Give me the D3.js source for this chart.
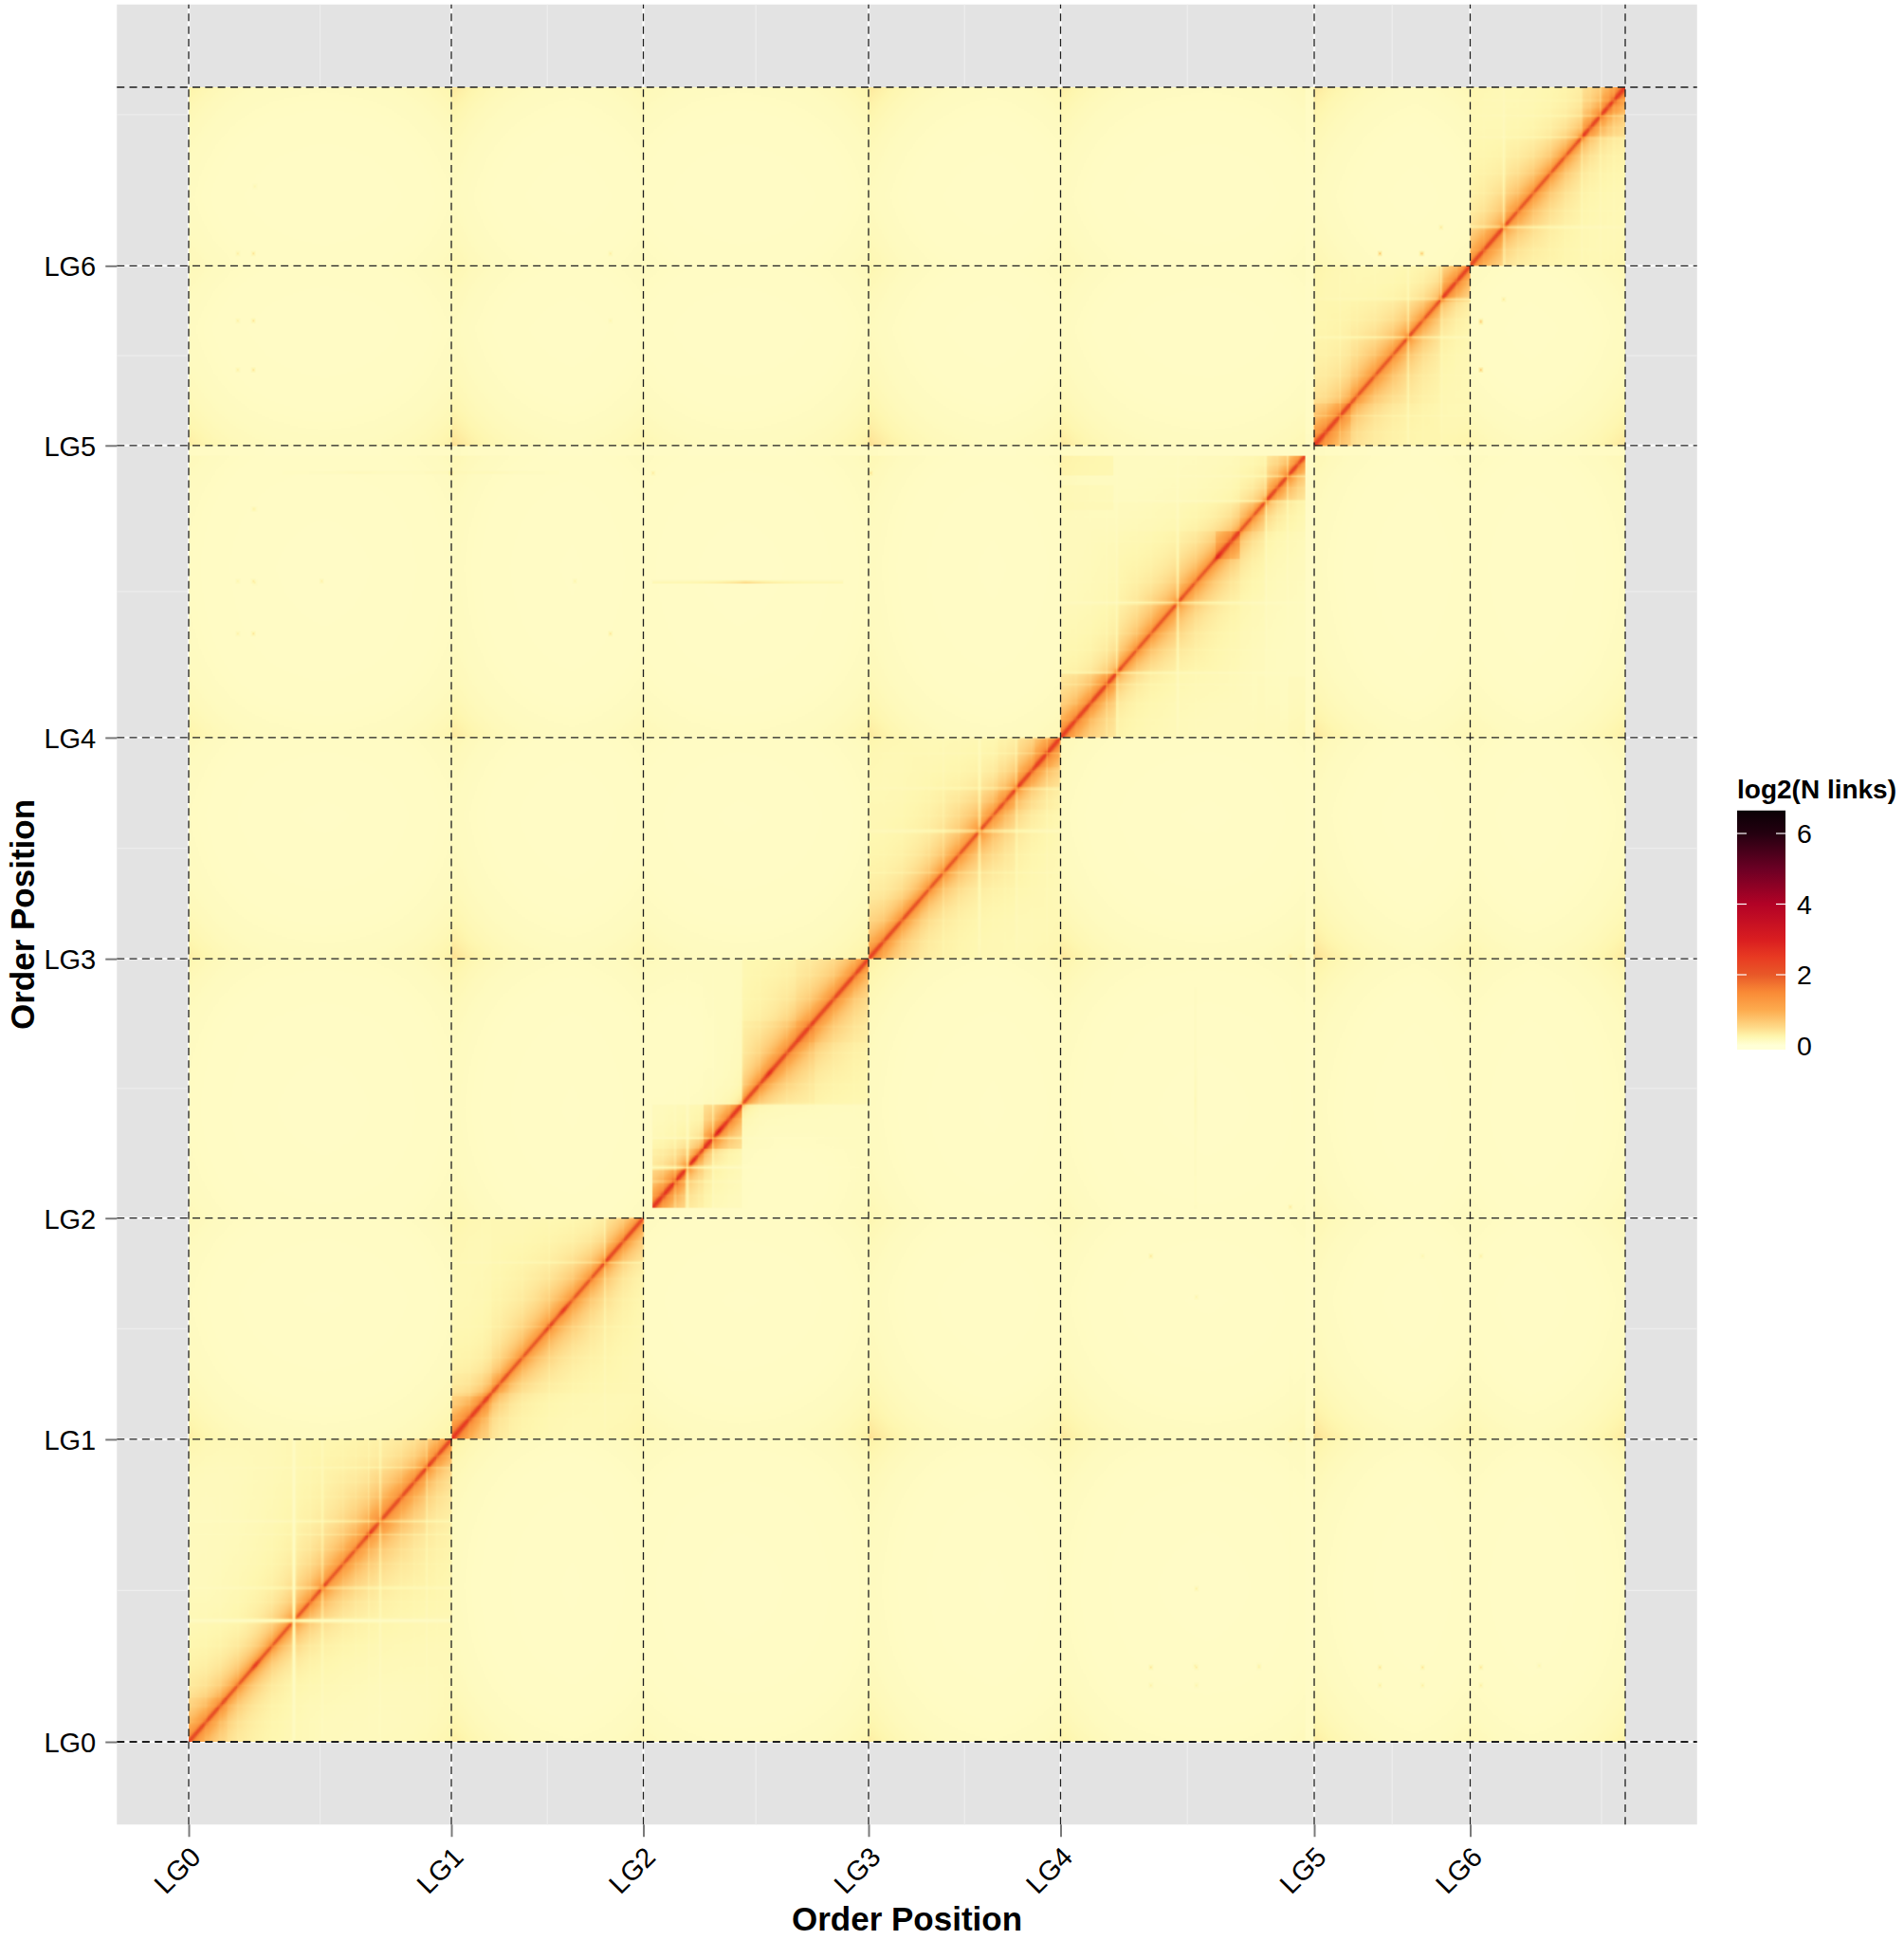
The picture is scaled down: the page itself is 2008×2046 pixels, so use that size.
<!DOCTYPE html>
<html>
<head>
<meta charset="utf-8">
<script src="https://cdn.jsdelivr.net/npm/d3@7"></script>
<style>
  html, body { margin: 0; padding: 0; background: #fff; }
  svg { display: block; font-family: "Liberation Sans", Arial, sans-serif; }
</style>
</head>
<body>
<svg id="chart" width="2008" height="2046"></svg>
<script>
// Everything below. Unit = one order position.
const lgLabels = ["LG0", "LG1", "LG2", "LG3", "LG4", "LG5", "LG6"];
const lgTicks = [0, 277, 479.5, 717, 919.5, 1187, 1351.5];
const totalLength = 1515;

// where the contact block of each group really starts and stops
const blockStart = [0, 277, 489, 717, 919.5, 1187, 1351.5];
const blockEnd = [277, 479.5, 717, 919.5, 1178, 1351.5, 1515];

// width of the orange halo along the diagonal of each group
const haloLG0 = [42, 36, 32, 40, 52, 60, 46, 30];
const haloLG1 = [32, 28, 34, 44, 48, 42, 30, 28];
const haloLG2 = [26, 20, 20, 20, 38, 42, 36, 28];
const haloLG3 = [32, 32, 36, 42, 50, 42, 32, 34];
const haloLG4 = [32, 30, 36, 48, 42, 36, 30, 24];
const haloLG5 = [36, 36, 42, 48, 42, 36, 32, 24];
const haloLG6 = [36, 42, 48, 42, 36, 32, 28, 30];
const haloWidths = [haloLG0, haloLG1, haloLG2, haloLG3, haloLG4, haloLG5, haloLG6];

// [from, to, extra log2 links] squares sitting on the diagonal
const subBlocks = [
  [0, 40, 0.12], [190, 250, 0.12], [250, 277, 0.14],
  [278, 316, 0.24], [278, 337, 0.08], [439, 479, 0.18],
  [489, 524, 0.34], [489, 552, 0.16], [489, 584, 0.1], [543, 584, 0.42], [584, 717, 0.1], [584, 660, 0.14], [640, 717, 0.12],
  [718, 771, 0.08], [854, 918, 0.12], [873, 918, 0.14], [892, 918, 0.16],
  [919, 978, 0.26], [1083, 1108, 0.42], [1136, 1178, 0.2], [1159, 1178, 0.1],
  [1187, 1226, 0.18], [1319, 1351, 0.3],
  [1351, 1388, 0.2], [1469, 1515, 0.24], [1489, 1515, 0.12],
];

// [position, factor] contacts crossing this position are damped
const barriers = [
  [320, 0.85], [584, 0.36], [543, 0.8], [873, 0.88], [979, 0.8], [1043, 0.92],
  [1108, 0.82], [1136, 0.75], [1226, 0.88], [1321, 0.75], [1388, 0.88], [1469, 0.88],
];

// [position, half width, strength] pale crosses
const paleStripes = [
  [111, 1.8, 0.96], [141, 1.4, 0.45], [202, 1.4, 0.5], [190, 1, 0.25], [251, 1.2, 0.35],
  [439, 1.2, 0.4], [380, 1, 0.18],
  [526, 1.6, 0.7], [553, 1.2, 0.5], [584, 1, 0.2], [513, 1, 0.4],
  [796, 1.2, 0.25], [834, 1.6, 0.6], [873, 1.2, 0.45], [905, 1, 0.25],
  [979, 1.4, 0.5], [1043, 1.5, 0.6], [1136, 1.3, 0.5], [1159, 1.2, 0.45], [968, 1, 0.25],
  [1286, 1.4, 0.5], [1321, 1.4, 0.45], [1214, 1, 0.25],
  [1387, 1.5, 0.55], [1469, 1.2, 0.35], [1489, 1.2, 0.35], [1503, 1, 0.25],
];

// finer pale lines inside the blocks
const fineStripes = [
  18, 33, 52, 88, 128, 163, 176, 224, 238, 262,
  296, 309, 328, 352, 405, 424, 458,
  500, 538, 570, 602, 631, 655, 680, 702,
  733, 752, 781, 812, 848, 861, 889,
  936, 951, 1000, 1015, 1062, 1099, 1122, 1148, 1170,
  1199, 1232, 1251, 1270, 1302, 1337,
  1366, 1402, 1418, 1436, 1452, 1478, 1497,
];

// dark knots on the diagonal
const diagSpots = [70, 141, 190, 251, 380, 395, 439, 532, 559, 612, 834, 873, 979, 1043, 1085, 1136, 1286, 1321, 1387, 1469];

// warm ends of the groups, they attract contacts from the other groups
const rimAtStart = [0.6, 1, 0.25, 1, 0.75, 1, 0.3];
const rimAtEnd = [0.5, 0.3, 0.55, 0.25, 0.25, 0.3, 0.75];

// [a, b, value] small isolated dots between groups
const specks = [
  [51, 1363, 0.2], [68, 1363, 0.32], [445, 1363, 0.2], [51, 1301, 0.2], [68, 1301, 0.32], [445, 1301, 0.12],
  [51, 1256, 0.2], [68, 1256, 0.32], [51, 1063, 0.14], [68, 1063, 0.22], [140, 1063, 0.2], [407, 1063, 0.16],
  [51, 1015, 0.18], [68, 1015, 0.32], [445, 1015, 0.32], [68, 1129, 0.14],
  [277, 1162, 0.4], [489, 1162, 0.25], [719, 1162, 0.3],
  [1061, 69, 0.12], [1129, 69, 0.1], [1424, 69, 0.12], [1256, 1363, 0.4], [1300, 1363, 0.4],
  [1320, 1387, 0.28], [1362, 1301, 0.32], [1362, 1256, 0.26],
];

// thin streaks, far stronger on the row than on the mirrored column
const streakFrom = [489, 250, 100];
const streakTo = [690, 390, 277];
const streakAt = [1061, 1162, 1162];
const streakValue = [0.42, 0.05, 0.06];
const streakPeak = [587, 320, 180];

// [a0, a1, b0, b1, value] faint far contacts, seen above the diagonal only
const farPatches = [
  [919, 975, 1160, 1178, 0.09],
  [919, 975, 1128, 1150, 0.04],
];

// legend colours
const colorValues = [0, 0.25, 0.5, 1, 1.5, 2, 2.5, 3, 4, 5, 6, 6.65];
const colorStops = ["#ffffd6", "#fef6ae", "#fedb8a", "#fdab4e", "#f98a36", "#e85828", "#e83a22", "#d91d20", "#b20226", "#6b0024", "#240010", "#0a0005"];
const legendTicks = [0, 2, 4, 6];

const svg = d3.select("#chart");
const x = d3.scaleLinear().domain([0, totalLength]).range([199, 1714]);
const y = d3.scaleLinear().domain([0, totalLength]).range([1837, 92]);
const color = d3.scaleLinear().domain(colorValues).range(colorStops).clamp(true);

const pad = totalLength * 0.05;
const left = x(-pad), right = x(totalLength + pad), bottom = y(-pad), top_ = y(totalLength + pad);

// panel
svg.append("rect")
  .attr("x", left).attr("y", top_)
  .attr("width", right - left).attr("height", bottom - top_)
  .attr("fill", "#e3e3e3");

// minor breaks like ggplot: also one past the last major
const minor = d3.pairs(lgTicks.concat([lgTicks[6] + lgTicks[1] - lgTicks[0]])).map((p) => (p[0] + p[1]) / 2);
const grid = svg.append("g").attr("fill", "none");
minor.forEach((d) => {
  if (x(d) < right) grid.append("line").attr("x1", x(d)).attr("x2", x(d)).attr("y1", top_).attr("y2", bottom).attr("stroke", "#ededed").attr("stroke-width", 1.2);
  if (y(d) > top_) grid.append("line").attr("y1", y(d)).attr("y2", y(d)).attr("x1", left).attr("x2", right).attr("stroke", "#ededed").attr("stroke-width", 1.2);
});
lgTicks.forEach((d) => {
  grid.append("line").attr("x1", x(d)).attr("x2", x(d)).attr("y1", top_).attr("y2", bottom).attr("stroke", "#fafafa").attr("stroke-width", 2.4);
  grid.append("line").attr("y1", y(d)).attr("y2", y(d)).attr("x1", left).attr("x2", right).attr("stroke", "#fafafa").attr("stroke-width", 2.4);
});

// build the contact matrix
const bin = 1.5;
const n = Math.ceil(totalLength / bin);
const pos = d3.range(n).map((i) => (i + 0.5) * bin);

const lgOf = pos.map((u) => blockStart.findIndex((s, k) => u >= s && u < blockEnd[k]));
const stripeF = pos.map((u) => {
  const big = paleStripes.reduce((f, s) => f * (1 - s[2] * Math.exp(-Math.pow((u - s[0]) / s[1], 2))), 1);
  return fineStripes.reduce((f, s) => f * (1 - 0.1 * Math.exp(-Math.pow((u - s) / 1.2, 2))), big);
});
// a start only warms the group after it, an end only the group before it
const rimFall = (dist, strength) => strength * (0.85 * Math.exp(-dist / 30) + 0.15 * Math.exp(-dist / 70));
const rim = pos.map((u) => {
  const fromStart = d3.max(lgTicks, (d, k) => (u >= d ? rimFall(u - d, rimAtStart[k]) : 0));
  const fromEnd = d3.max(blockEnd, (d, k) => (u <= d ? rimFall(d - u, rimAtEnd[k]) : 0));
  return Math.max(fromStart, fromEnd);
});
const spot = pos.map((u) => d3.sum(diagSpots, (s) => Math.exp(-Math.pow((u - s) / 3.5, 2))));

const widthScales = haloWidths.map((arr, k) =>
  d3.scaleLinear()
    .domain(arr.map((_, i) => blockStart[k] + ((blockEnd[k] - blockStart[k]) * i) / (arr.length - 1)))
    .range(arr));
const widthAt = pos.map((u, i) => (lgOf[i] >= 0 ? widthScales[lgOf[i]](u) : 30));

const matrix = new Float32Array(n * n);
for (let i = 0; i < n; i++) {
  for (let j = i; j < n; j++) {
    const a = pos[i], b = pos[j];
    let v = 0.1 + 0.3 * rim[i] * rim[j] + 0.035 * (rim[i] + rim[j]);
    if (lgOf[i] >= 0 && lgOf[i] === lgOf[j]) {
      const d = b - a;
      const mid = (i + j) >> 1;
      const w = widthAt[mid];
      let h = 0.98 * Math.exp(-d / (0.42 * w)) + 0.34 * Math.exp(-d / (2.1 * w));
      const soft = 0.2 + 0.8 * Math.exp(-d / 25);
      for (const s of subBlocks) if (a >= s[0] && b <= s[1]) h += s[2] * soft;
      for (const c of barriers) if (a < c[0] && b > c[0]) h *= c[1];
      const line = Math.exp(-Math.pow(d / 3.2, 2)) * (0.62 + 0.5 * spot[mid]);
      v += (h + line) * stripeF[i] * stripeF[j];
    }
    matrix[i * n + j] = v;
    matrix[j * n + i] = v;
  }
}

const binOf = (u) => Math.min(n - 1, Math.max(0, Math.floor(u / bin)));
// mirror is how much of the value also lands on the other side of the diagonal
const bump = (a, b, dv, mirror = 1) => {
  const i = binOf(a), j = binOf(b);
  matrix[j * n + i] += dv;
  matrix[i * n + j] += dv * mirror;
};
farPatches.forEach((p) => {
  for (let a = p[0]; a < p[1]; a += bin) for (let b = p[2]; b < p[3]; b += bin) bump(a, b, p[4], 0.25);
});
streakAt.forEach((at, k) => {
  for (let a = streakFrom[k]; a < streakTo[k]; a += bin) {
    const dv = streakValue[k] * (0.2 + 0.8 * Math.exp(-Math.abs(a - streakPeak[k]) / 30));
    bump(a, at, dv, 0.2);
    bump(a, at + bin, dv * 0.6, 0.2);
  }
});
specks.forEach((s) => {
  for (let da = -bin; da <= bin; da += bin) for (let db = -bin; db <= bin; db += bin) {
    bump(s[0] + da, s[1] + db, s[2] * (da === 0 && db === 0 ? 1 : 0.3));
  }
});

// paint the matrix through the colour scale, row 0 is the top of the picture
const lutStep = 0.005;
const lut = d3.range(0, 6.65 + lutStep, lutStep).map((v) => d3.rgb(color(v)));
const canvas = document.createElement("canvas");
canvas.width = n;
canvas.height = n;
const ctx = canvas.getContext("2d");
const img = ctx.createImageData(n, n);
for (let r = 0; r < n; r++) {
  for (let c = 0; c < n; c++) {
    const v = matrix[(n - 1 - r) * n + c];
    const col = lut[Math.min(lut.length - 1, Math.round(v / lutStep))];
    const o = (r * n + c) * 4;
    img.data[o] = col.r;
    img.data[o + 1] = col.g;
    img.data[o + 2] = col.b;
    img.data[o + 3] = 255;
  }
}
ctx.putImageData(img, 0, 0);

svg.append("image")
  .attr("x", x(0)).attr("y", y(totalLength))
  .attr("width", x(totalLength) - x(0)).attr("height", y(0) - y(totalLength))
  .attr("preserveAspectRatio", "none")
  .attr("href", canvas.toDataURL());

// dashed group borders, ggplot starts them from the bottom and the left
const dashes = svg.append("g").attr("fill", "none").attr("stroke", "#1e1e1e").attr("stroke-dasharray", "8 5.3");
lgTicks.concat([totalLength]).forEach((d) => {
  dashes.append("line")
    .attr("x1", x(d)).attr("x2", x(d)).attr("y1", bottom).attr("y2", top_)
    .attr("stroke-width", 1.3);
  dashes.append("line")
    .attr("x1", left).attr("x2", right).attr("y1", y(d)).attr("y2", y(d))
    .attr("stroke-width", d === 0 ? 2.2 : 1.3);
});

// axes
const axisX = svg.append("g")
  .attr("transform", `translate(0, ${bottom})`)
  .call(d3.axisBottom(x).tickValues(lgTicks).tickFormat((d, i) => lgLabels[i]).tickSize(13));
const axisY = svg.append("g")
  .attr("transform", `translate(${left}, 0)`)
  .call(d3.axisLeft(y).tickValues(lgTicks).tickFormat((d, i) => lgLabels[i]).tickSize(12));
[axisX, axisY].forEach((a) => {
  a.select(".domain").remove();
  a.selectAll("line").attr("stroke", "#7a7a7a").attr("stroke-width", 2);
  a.selectAll("text").attr("fill", "#000").style("font-size", "29px").style("font-family", '"Liberation Sans", Arial, sans-serif');
});
axisX.selectAll("text")
  .attr("text-anchor", "end")
  .attr("x", 0).attr("y", 0).attr("dy", 0)
  .attr("transform", "translate(14, 36) rotate(-45)");
axisY.selectAll("text").attr("x", -22).attr("dy", "0.36em");

// axis titles
svg.append("text")
  .attr("x", (left + right) / 2).attr("y", 2036)
  .attr("text-anchor", "middle")
  .style("font-size", "35px").style("font-weight", "bold")
  .text("Order Position");
svg.append("text")
  .attr("transform", `translate(36, ${(top_ + bottom) / 2}) rotate(-90)`)
  .attr("text-anchor", "middle")
  .style("font-size", "35px").style("font-weight", "bold")
  .text("Order Position");

// legend
const legY = d3.scaleLinear().domain([0, 6]).range([1102.5, 879]);
const barTop = legY(6.65), barBottom = legY(-0.12);
const defs = svg.append("defs");
const grad = defs.append("linearGradient").attr("id", "legendGrad").attr("x1", 0).attr("x2", 0).attr("y1", 1).attr("y2", 0);
colorValues.forEach((v, i) => {
  grad.append("stop")
    .attr("offset", (legY(0) - legY(v) + (barBottom - legY(0))) / (barBottom - barTop))
    .attr("stop-color", colorStops[i]);
});
svg.append("rect")
  .attr("x", 1832).attr("y", barTop)
  .attr("width", 51).attr("height", barBottom - barTop)
  .attr("fill", "url(#legendGrad)");
const legendG = svg.append("g");
legendTicks.forEach((v) => {
  if (v > 0) {
    legendG.append("line").attr("x1", 1832).attr("x2", 1842).attr("y1", legY(v)).attr("y2", legY(v)).attr("stroke", "#fff").attr("stroke-width", 1.2);
    legendG.append("line").attr("x1", 1873).attr("x2", 1883).attr("y1", legY(v)).attr("y2", legY(v)).attr("stroke", "#fff").attr("stroke-width", 1.2);
  }
  legendG.append("text")
    .attr("x", 1895).attr("y", legY(v)).attr("dy", "0.36em")
    .style("font-size", "28.5px")
    .text(v);
});
svg.append("text")
  .attr("x", 1832).attr("y", 842)
  .style("font-size", "28px").style("font-weight", "bold")
  .text("log2(N links)");
</script>
</body>
</html>
